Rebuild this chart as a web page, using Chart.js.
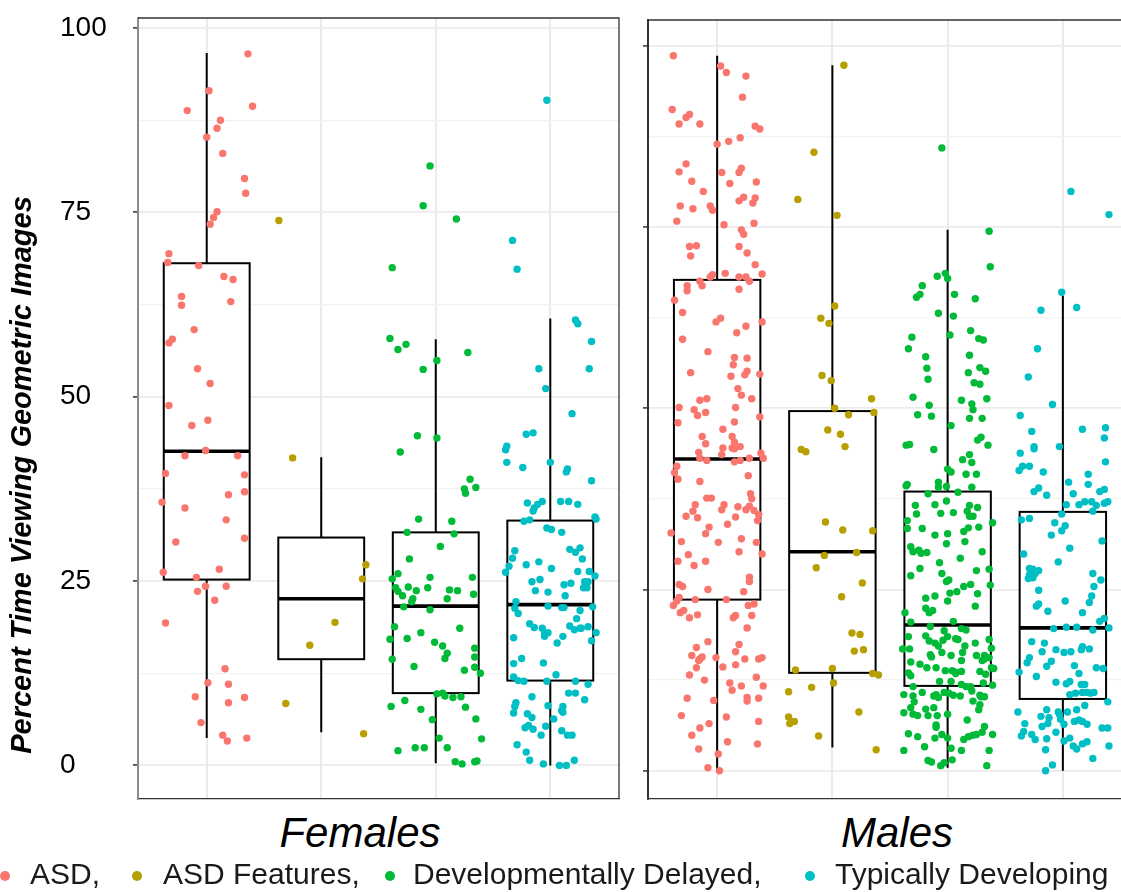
<!DOCTYPE html>
<html><head><meta charset="utf-8">
<script src="https://cdn.jsdelivr.net/npm/chart.js@4.4.1/dist/chart.umd.min.js"></script>
<style>
html,body{margin:0;padding:0;background:#fff;overflow:hidden;width:1121px;height:892px;}
#wrap{position:relative;width:1121px;height:892px;overflow:hidden;font-family:'Liberation Sans',Arial,sans-serif;background:#fff;}
canvas{position:absolute;top:0;}
#cF{left:0;}
#cM{left:620px;}
.facet{position:absolute;top:812px;font-style:italic;font-size:42px;line-height:42px;color:#000;white-space:nowrap;transform:translateX(-50%);}
#ytitle{position:absolute;left:21px;top:475px;font-weight:bold;font-style:italic;font-size:29px;line-height:29px;white-space:nowrap;transform:translate(-50%,-50%) rotate(-90deg);color:#000;}
.lg{position:absolute;top:859px;font-size:30px;line-height:30px;color:#1a1a1a;white-space:nowrap;}
.dot{position:absolute;width:10px;height:10px;border-radius:50%;top:871px;}
</style>
</head>
<body>
<div id="wrap">
<canvas id="cF" width="620" height="800"></canvas>
<canvas id="cM" width="520" height="800"></canvas>
<div id="ytitle">Percent Time Viewing Geometric Images</div>
<div class="facet" id="fF" style="left:360px">Females</div>
<div class="facet" id="fM" style="left:897px">Males</div>
<div id="legend"></div>
</div>
<script>
// ---------- categories / labels ----------
const groupNames = ['ASD', 'ASD Features', 'Developmentally Delayed', 'Typically Developing'];
const groupColors = ['#F8766D', '#B79F00', '#00BA38', '#00BFC4'];
const panelNames = ['Females', 'Males'];
const majorTicks = [0, 25, 50, 75, 100];
const minorTicks = [12.5, 37.5, 62.5, 87.5];

// ---------- box statistics ----------
const femLow  = [3.7, 4.5, 0.3, 0.0];
const femQ1   = [25.2, 14.4, 9.8, 11.5];
const femMed  = [42.6, 22.6, 21.6, 21.8];
const femQ3   = [68.1, 30.9, 31.6, 33.2];
const femHigh = [96.6, 41.8, 57.8, 60.6];

const malLow  = [0.0, 3.2, 0.4, 0.0];
const malQ1   = [23.6, 13.5, 11.7, 9.9];
const malMed  = [43.0, 30.2, 20.1, 19.7];
const malQ3   = [67.7, 49.6, 38.5, 35.7];
const malHigh = [98.6, 97.3, 74.6, 65.5];

// ---------- jittered points: [horizontal jitter, percent] ----------
const femASD = [[0.36,96.5],[0.02,91.5],[-0.17,88.8],[0.40,89.4],[0.12,87.5],[0.09,86.4],[0.00,85.2],[0.14,83.0],[0.33,79.6],[0.34,77.6],[0.09,75.1],[0.06,74.3],[0.03,73.4],[-0.33,69.4],[-0.34,68.2],[-0.07,67.8],[0.15,66.3],[0.23,65.9],[-0.22,63.6],[-0.22,62.4],[0.21,62.9],[-0.11,59.1],[-0.30,57.8],[-0.33,57.3],[-0.08,53.8],[0.03,51.8],[-0.33,48.8],[0.01,46.8],[-0.13,46.1],[-0.19,42.0],[-0.01,42.7],[0.27,42.0],[-0.36,39.6],[0.33,39.4],[-0.39,35.7],[0.19,36.7],[0.33,37.1],[-0.19,34.9],[0.17,33.3],[-0.27,30.3],[0.33,30.8],[-0.38,26.2],[0.11,26.6],[-0.09,25.5],[-0.01,24.3],[0.17,24.3],[-0.08,23.6],[0.07,22.4],[-0.36,19.3],[0.16,13.1],[0.01,11.2],[0.19,11.0],[-0.10,9.3],[0.19,8.5],[0.33,9.2],[-0.05,5.8],[0.14,4.1],[0.18,3.3],[0.35,3.7]];
const femASDF = [[-0.37,73.9],[-0.25,41.7],[0.39,27.2],[0.36,25.3],[0.12,19.4],[-0.10,16.3],[-0.31,8.4],[0.37,4.3]];
const femDD = [[-0.38,67.5],[-0.05,81.3],[-0.11,75.9],[0.18,74.1],[-0.40,57.9],[-0.33,56.4],[-0.26,57.1],[0.01,54.9],[0.28,56.0],[-0.11,53.7],[-0.16,44.7],[0.01,44.4],[-0.31,42.5],[0.30,38.8],[0.25,37.5],[0.26,36.9],[0.35,37.7],[-0.15,33.4],[0.14,33.1],[-0.25,31.6],[0.16,31.4],[0.04,29.7],[-0.23,28.0],[-0.33,26.0],[-0.38,25.3],[-0.05,25.5],[0.32,25.5],[-0.35,24.1],[-0.24,24.2],[-0.33,23.6],[-0.29,23.0],[-0.17,23.7],[-0.07,24.1],[0.12,23.8],[0.19,23.7],[0.33,23.2],[-0.20,22.6],[-0.21,22.2],[0.10,22.6],[-0.28,21.5],[-0.05,21.1],[-0.36,18.8],[0.21,18.6],[-0.13,18.0],[-0.40,17.1],[-0.25,17.2],[-0.01,16.7],[0.06,16.2],[0.10,15.2],[0.08,14.5],[0.34,15.9],[0.34,14.7],[-0.38,14.4],[-0.19,13.4],[0.25,12.9],[0.34,13.3],[0.39,12.5],[0.01,9.7],[0.06,9.8],[0.08,9.4],[0.15,9.2],[0.22,9.3],[-0.27,8.8],[-0.39,8.0],[-0.13,7.6],[0.26,7.9],[-0.03,6.2],[0.35,6.3],[0.03,3.7],[0.40,3.6],[-0.33,2.0],[-0.18,2.4],[-0.10,2.4],[0.10,2.4],[0.17,0.5],[0.23,0.2],[0.34,0.5],[0.36,0.6]];
const femTD = [[-0.03,90.2],[-0.33,71.2],[-0.29,67.3],[0.22,60.4],[0.24,59.9],[0.36,57.5],[0.34,53.8],[-0.10,53.8],[-0.04,51.1],[0.19,47.7],[-0.21,44.9],[-0.15,45.1],[-0.38,43.3],[-0.39,42.8],[-0.38,41.1],[0.00,41.1],[-0.24,40.4],[0.15,40.2],[0.14,39.8],[0.36,38.6],[-0.20,35.6],[-0.14,34.9],[-0.15,34.5],[-0.11,35.4],[-0.07,35.8],[0.09,35.8],[0.16,35.8],[0.24,35.4],[0.39,33.7],[0.40,33.4],[-0.23,33.1],[-0.18,33.3],[-0.03,32.2],[0.01,32.0],[0.10,31.6],[-0.31,29.1],[-0.33,28.1],[0.17,29.3],[0.26,29.5],[0.22,28.9],[0.28,28.0],[-0.36,27.0],[-0.39,26.2],[-0.21,27.2],[-0.10,27.6],[0.01,26.7],[0.24,26.3],[0.34,26.3],[0.39,25.7],[-0.16,24.9],[-0.09,25.2],[0.12,24.5],[0.18,24.7],[0.30,24.9],[0.33,24.9],[0.29,24.1],[0.32,24.1],[-0.13,23.7],[-0.02,23.5],[0.13,23.0],[-0.30,22.2],[-0.31,21.3],[-0.28,20.6],[-0.02,21.6],[0.10,21.4],[0.12,21.4],[0.37,21.5],[0.26,21.0],[0.23,19.9],[-0.18,19.2],[-0.14,18.7],[-0.07,18.6],[-0.05,17.9],[-0.05,17.5],[-0.02,18.0],[0.06,16.6],[0.11,17.5],[0.17,18.9],[0.21,18.4],[0.26,18.6],[0.27,18.6],[0.33,18.8],[0.36,16.9],[0.40,18.0],[-0.32,17.3],[-0.25,14.5],[-0.32,13.8],[-0.06,13.9],[-0.32,12.0],[-0.28,11.5],[-0.23,11.4],[-0.03,11.4],[0.05,12.3],[0.22,11.4],[0.33,11.0],[0.16,9.8],[0.22,9.8],[0.30,8.9],[-0.16,9.3],[-0.30,8.5],[-0.31,8.0],[-0.32,7.1],[-0.20,7.0],[-0.16,6.5],[-0.02,8.1],[0.11,8.0],[0.10,7.4],[0.11,7.2],[0.03,6.3],[-0.22,5.1],[-0.19,5.4],[-0.15,4.9],[-0.04,5.3],[0.10,4.7],[0.15,4.1],[0.19,4.1],[-0.08,4.1],[-0.29,2.8],[-0.21,1.8],[-0.18,0.7],[-0.06,0.2],[0.08,0.0],[0.14,0.0],[0.21,0.7]];

const malASD = [[-0.38,98.6],[0.03,97.2],[0.08,96.3],[0.25,95.8],[0.22,92.9],[-0.39,91.2],[-0.33,89.2],[-0.27,90.1],[-0.24,90.5],[-0.15,89.2],[0.33,88.9],[0.37,88.5],[0.00,86.4],[0.10,86.8],[0.20,87.3],[-0.27,83.7],[-0.33,82.6],[0.04,82.5],[0.21,83.1],[0.19,82.5],[-0.22,81.3],[0.11,81.0],[0.34,81.2],[-0.12,79.9],[-0.32,77.9],[-0.21,77.5],[-0.06,77.9],[-0.04,77.3],[0.19,78.6],[0.23,79.1],[0.31,78.3],[0.33,79.0],[-0.35,75.8],[0.06,75.3],[0.32,75.5],[0.21,74.6],[0.23,74.0],[-0.24,72.3],[-0.18,72.4],[-0.23,71.0],[0.19,72.3],[0.26,71.4],[0.33,69.8],[0.39,68.5],[0.07,68.6],[-0.04,68.4],[-0.06,68.1],[0.19,68.1],[0.25,68.1],[0.28,67.5],[-0.15,67.5],[-0.13,66.9],[-0.26,66.9],[-0.26,66.2],[0.19,66.4],[-0.37,64.9],[-0.30,63.2],[0.03,62.4],[-0.01,61.9],[0.39,61.9],[0.25,61.3],[0.17,60.4],[-0.30,59.5],[-0.08,57.8],[0.15,57.0],[0.26,56.9],[0.14,56.0],[-0.23,54.9],[0.26,55.1],[0.24,54.6],[0.12,54.4],[0.37,54.7],[0.18,52.7],[0.21,51.8],[0.30,51.3],[-0.15,51.1],[-0.09,51.3],[0.16,50.1],[-0.33,50.1],[-0.20,49.8],[-0.17,49.0],[-0.10,49.4],[0.37,48.8],[-0.34,48.0],[0.15,48.1],[0.05,47.1],[0.13,46.1],[-0.13,46.1],[0.15,45.3],[-0.10,45.1],[0.05,44.5],[0.13,44.5],[0.20,44.7],[-0.16,43.9],[0.04,43.6],[0.15,44.4],[0.38,43.8],[0.40,43.1],[0.28,43.1],[0.20,42.8],[-0.15,43.1],[-0.09,42.8],[0.15,42.6],[-0.35,42.0],[-0.37,41.1],[-0.34,40.2],[0.27,40.7],[-0.15,39.9],[-0.09,37.6],[-0.05,37.6],[0.29,38.2],[0.30,37.5],[-0.19,36.7],[0.06,36.7],[0.18,36.4],[0.25,36.0],[0.28,36.5],[-0.21,35.8],[0.04,36.0],[0.32,35.9],[-0.27,35.1],[-0.17,34.9],[0.16,35.0],[0.36,35.3],[0.35,34.5],[0.09,34.0],[-0.07,33.6],[-0.10,32.7],[-0.40,32.8],[0.21,32.0],[-0.31,31.6],[0.01,31.5],[0.34,31.5],[-0.25,29.8],[0.19,30.2],[0.39,29.9],[-0.20,28.3],[-0.34,28.9],[-0.10,28.9],[0.28,26.7],[0.28,26.1],[-0.33,25.7],[-0.30,25.4],[-0.08,25.0],[0.23,24.7],[-0.33,23.9],[-0.35,23.4],[-0.38,22.8],[-0.19,23.6],[0.08,23.6],[0.27,22.8],[0.32,23.0],[-0.32,21.8],[-0.29,22.1],[-0.24,21.1],[-0.17,21.5],[0.14,21.1],[0.16,21.4],[0.30,21.4],[0.26,19.7],[-0.18,17.0],[-0.08,17.8],[0.19,17.4],[-0.22,15.9],[-0.15,15.4],[-0.13,15.7],[-0.16,15.2],[-0.01,15.6],[0.16,16.4],[0.24,15.4],[0.36,15.4],[0.39,15.6],[-0.18,14.2],[0.05,14.3],[0.16,14.6],[-0.24,13.2],[-0.11,12.5],[0.34,12.9],[0.11,12.1],[0.21,11.7],[0.13,11.1],[0.40,11.7],[-0.26,10.0],[-0.03,9.7],[0.26,10.1],[0.26,9.6],[0.36,10.0],[-0.31,7.6],[0.08,7.4],[-0.07,6.5],[0.36,6.8],[-0.15,5.9],[-0.22,4.9],[0.09,4.0],[0.35,3.7],[-0.16,3.0],[0.01,2.3],[-0.08,0.4],[0.02,0.0]];
const malASDF = [[0.10,97.3],[-0.16,85.3],[-0.30,78.8],[0.04,76.6],[0.02,64.1],[-0.10,62.4],[-0.03,61.7],[-0.09,54.5],[-0.01,53.8],[0.02,50.0],[0.34,51.3],[0.36,49.4],[0.14,49.1],[-0.04,47.0],[0.07,46.4],[0.11,44.7],[-0.27,44.3],[-0.23,44.0],[-0.06,34.3],[0.09,33.2],[0.35,33.1],[0.21,30.1],[-0.07,29.7],[-0.14,28.0],[0.26,25.9],[0.08,24.0],[0.17,19.0],[0.24,18.8],[0.19,16.5],[0.27,16.7],[-0.32,13.9],[0.00,14.1],[0.35,13.4],[0.40,13.2],[0.01,12.1],[-0.18,11.5],[-0.38,10.9],[0.23,8.1],[-0.38,7.4],[-0.37,6.5],[-0.33,6.8],[-0.12,4.8],[0.38,2.9]];
const malDD = [[-0.05,85.9],[0.36,74.4],[0.37,69.5],[-0.09,68.2],[-0.02,68.6],[0.00,67.9],[-0.22,66.9],[-0.27,65.3],[-0.24,65.7],[0.06,65.7],[0.24,65.1],[-0.08,63.1],[0.05,62.7],[-0.31,59.8],[0.02,60.1],[0.20,60.7],[0.27,59.6],[0.31,59.4],[-0.34,58.2],[-0.19,57.1],[0.19,57.3],[-0.18,55.5],[0.28,55.6],[0.18,54.9],[0.33,55.1],[-0.17,54.0],[0.23,53.5],[0.28,53.3],[-0.30,51.5],[0.12,51.1],[0.34,51.3],[-0.16,50.4],[0.21,50.6],[0.22,49.8],[-0.26,49.1],[-0.14,48.9],[0.19,48.6],[0.30,48.6],[0.03,47.6],[0.29,46.0],[0.26,45.6],[-0.36,44.9],[-0.33,45.0],[0.35,44.9],[-0.12,44.3],[0.19,43.6],[0.21,42.5],[0.13,42.9],[0.00,41.6],[0.03,41.2],[0.16,40.9],[0.25,40.9],[-0.36,39.3],[-0.35,39.5],[-0.08,39.8],[-0.08,39.1],[-0.01,39.2],[0.21,39.1],[-0.17,38.2],[0.09,38.4],[-0.01,37.2],[-0.11,36.7],[-0.28,36.6],[0.19,36.6],[0.26,36.3],[0.17,35.8],[0.19,35.1],[0.22,35.1],[-0.27,35.4],[-0.06,35.5],[0.05,35.6],[-0.35,34.5],[0.39,34.2],[-0.35,33.4],[-0.22,33.4],[0.18,33.5],[0.27,33.6],[0.14,33.0],[0.00,32.7],[-0.11,32.5],[0.15,31.6],[-0.01,31.3],[-0.32,30.9],[-0.30,30.2],[-0.25,30.4],[-0.23,30.0],[-0.18,30.1],[0.30,30.2],[-0.24,27.9],[0.11,29.3],[-0.07,28.7],[0.36,27.8],[0.25,27.6],[-0.32,26.9],[-0.05,27.2],[-0.01,26.1],[0.01,26.3],[0.14,25.4],[0.20,25.7],[0.37,25.6],[0.02,24.5],[0.08,24.7],[0.26,24.4],[-0.19,23.8],[-0.11,24.1],[0.00,23.4],[0.24,22.7],[-0.19,22.4],[-0.16,21.8],[-0.13,22.1],[-0.37,21.8],[-0.32,20.5],[0.05,20.6],[0.12,19.6],[0.16,19.4],[-0.15,19.9],[-0.03,19.3],[-0.34,18.5],[-0.19,18.6],[-0.16,17.9],[-0.11,17.6],[-0.08,17.2],[-0.04,18.0],[0.00,18.5],[0.07,18.2],[0.09,18.1],[0.15,17.2],[0.24,17.6],[0.36,18.1],[-0.39,16.8],[-0.33,16.8],[0.38,16.9],[-0.15,16.0],[-0.14,15.7],[-0.05,16.3],[0.03,15.9],[0.13,16.3],[0.25,15.9],[0.32,15.9],[0.36,15.6],[-0.32,15.0],[0.12,15.2],[0.30,15.2],[0.32,15.4],[-0.24,14.7],[-0.18,14.2],[-0.10,14.2],[-0.02,13.8],[0.04,13.8],[0.07,13.6],[0.12,13.7],[0.28,13.7],[0.38,14.2],[0.40,14.1],[-0.34,13.5],[-0.32,13.1],[-0.07,12.3],[0.03,12.3],[0.07,13.4],[0.12,11.9],[0.16,11.6],[0.20,11.6],[0.31,12.1],[0.33,13.3],[-0.30,11.6],[0.39,11.8],[-0.38,10.5],[-0.30,10.3],[-0.22,10.8],[-0.12,10.3],[-0.10,10.5],[-0.08,10.1],[-0.03,10.8],[0.01,10.7],[0.05,10.4],[0.11,10.3],[0.21,11.0],[0.28,10.4],[0.29,10.2],[0.32,10.2],[0.22,9.6],[-0.29,9.5],[0.28,9.1],[-0.32,8.7],[-0.12,8.7],[-0.19,8.5],[0.27,8.4],[-0.38,8.0],[-0.30,7.8],[-0.26,7.6],[-0.17,7.6],[-0.09,7.6],[0.00,7.8],[0.17,7.0],[-0.10,6.3],[-0.10,6.0],[0.32,6.1],[-0.34,5.1],[-0.26,4.7],[-0.11,4.5],[-0.05,5.0],[0.00,4.5],[0.14,4.3],[0.18,4.7],[0.22,4.9],[0.25,5.0],[0.30,5.3],[0.39,5.0],[-0.38,2.8],[-0.20,3.3],[0.03,3.1],[0.12,2.8],[0.36,2.8],[-0.17,1.4],[-0.14,1.2],[-0.06,0.7],[-0.03,1.1],[0.04,1.5],[0.34,0.7]];
const malTD = [[0.07,79.9],[0.40,76.7],[-0.01,66.0],[-0.19,63.5],[0.12,63.9],[-0.22,58.2],[-0.30,54.3],[-0.09,50.5],[-0.37,49.0],[-0.27,46.8],[0.17,47.1],[0.37,47.3],[0.36,45.9],[-0.25,44.7],[-0.25,44.4],[-0.03,44.7],[-0.37,43.8],[0.37,42.6],[-0.38,41.4],[-0.35,42.0],[-0.29,42.0],[-0.17,41.2],[0.22,40.9],[0.05,39.8],[0.22,39.5],[-0.21,39.0],[-0.25,38.5],[-0.14,38.0],[0.09,38.2],[0.36,38.8],[0.32,38.5],[0.19,37.1],[0.14,36.7],[0.03,36.7],[0.25,37.1],[0.29,36.6],[0.39,37.1],[0.36,36.9],[0.26,35.8],[-0.01,35.4],[-0.36,34.6],[-0.29,34.8],[-0.07,34.2],[0.02,33.8],[-0.01,33.1],[-0.10,32.5],[0.34,31.7],[0.06,30.7],[-0.34,29.9],[-0.04,28.8],[-0.29,27.9],[-0.26,27.8],[-0.21,27.6],[-0.29,27.0],[-0.24,27.2],[-0.30,26.5],[-0.26,26.6],[0.26,27.2],[0.33,26.3],[0.27,25.4],[-0.21,24.9],[0.02,23.4],[0.25,24.1],[0.23,23.2],[-0.23,22.7],[-0.21,23.0],[-0.13,22.0],[0.17,21.8],[0.36,21.0],[0.32,20.6],[0.40,19.7],[0.12,19.8],[0.26,19.4],[-0.08,19.6],[0.03,19.8],[-0.27,17.8],[-0.16,17.6],[-0.06,16.7],[0.01,16.3],[0.07,16.4],[0.16,16.7],[0.17,17.1],[0.23,16.8],[-0.18,16.4],[-0.29,15.6],[-0.31,14.9],[-0.10,15.1],[-0.14,14.4],[0.10,14.5],[0.29,14.2],[0.35,14.1],[-0.38,13.6],[-0.23,13.0],[0.14,13.4],[-0.06,12.2],[0.03,12.0],[0.06,12.3],[0.16,11.9],[0.19,11.9],[0.06,10.5],[0.11,10.7],[0.17,10.8],[0.21,10.8],[0.24,10.7],[0.27,10.8],[0.39,9.5],[0.19,9.0],[-0.39,8.1],[-0.14,8.4],[-0.04,8.1],[-0.03,7.8],[0.04,8.1],[0.12,8.4],[-0.19,7.5],[-0.12,7.3],[-0.02,7.1],[0.10,6.8],[0.14,7.0],[0.17,6.8],[0.21,6.4],[-0.33,6.5],[-0.18,6.1],[-0.13,6.5],[0.01,6.4],[0.34,5.9],[0.39,5.9],[-0.34,5.4],[-0.36,4.8],[-0.27,5.0],[-0.24,4.3],[-0.14,4.4],[-0.06,5.3],[0.06,4.5],[0.01,4.1],[0.09,3.4],[0.12,3.0],[0.17,3.7],[0.21,4.0],[0.40,3.4],[-0.15,2.9],[0.26,1.7],[-0.09,0.8],[-0.15,0.0]];

// ---------- panel / style settings ----------
const BOX_WIDTH = 0.75;
const FONT = "'Liberation Sans', Arial, sans-serif";

const panels = [
  { canvas: 'cF', points: [femASD, femASDF, femDD, femTD],
    low: femLow, q1: femQ1, med: femMed, q3: femQ3, high: femHigh,
    yMin: -4.56, yMax: 101.36, showLabels: true, axisWidth: 78, borderColor: '#8c8c8c',
    padding: { left: 60, top: 18, right: 1, bottom: 1 } },
  { canvas: 'cM', points: [malASD, malASDF, malDD, malTD],
    low: malLow, q1: malQ1, med: malMed, q3: malQ3, high: malHigh,
    yMin: -3.90, yMax: 103.54, showLabels: false, axisWidth: 5, borderColor: '#333333',
    padding: { left: 23, top: 20, right: 8, bottom: 1 } }
];

function buildPanel(p) {
  const boxPlugin = {
    id: 'box_' + p.canvas,
    beforeDatasetsDraw(chart) {
      const ctx = chart.ctx, xs = chart.scales.x, ys = chart.scales.y;
      ctx.save();
      ctx.strokeStyle = '#000';
      for (let i = 0; i < groupNames.length; i++) {
        const pos = i + 1;
        const cx = xs.getPixelForValue(pos);
        const xl = xs.getPixelForValue(pos - BOX_WIDTH / 2);
        const xr = xs.getPixelForValue(pos + BOX_WIDTH / 2);
        const yLo = ys.getPixelForValue(p.low[i]);
        const yQ1 = ys.getPixelForValue(p.q1[i]);
        const yMd = ys.getPixelForValue(p.med[i]);
        const yQ3 = ys.getPixelForValue(p.q3[i]);
        const yHi = ys.getPixelForValue(p.high[i]);
        ctx.lineWidth = 2;
        ctx.beginPath();
        ctx.moveTo(cx, yHi); ctx.lineTo(cx, yQ3);
        ctx.moveTo(cx, yQ1); ctx.lineTo(cx, yLo);
        ctx.stroke();
        ctx.fillStyle = '#fff';
        ctx.fillRect(xl, yQ3, xr - xl, yQ1 - yQ3);
        ctx.strokeRect(xl, yQ3, xr - xl, yQ1 - yQ3);
        ctx.lineWidth = 3.6;
        ctx.beginPath();
        ctx.moveTo(xl, yMd); ctx.lineTo(xr, yMd);
        ctx.stroke();
      }
      ctx.restore();
    },
    afterDatasetsDraw(chart) {
      const ctx = chart.ctx, a = chart.chartArea;
      ctx.save();
      ctx.strokeStyle = '#333';
      ctx.lineWidth = 1.3;
      ctx.beginPath();
      ctx.moveTo(a.left, a.top); ctx.lineTo(a.right, a.top); ctx.lineTo(a.right, a.bottom);
      ctx.stroke();
      ctx.restore();
    }
  };

  const isMajor = v => majorTicks.includes(v);
  const allY = majorTicks.concat(minorTicks).sort((a, b) => a - b);

  return new Chart(document.getElementById(p.canvas), {
    type: 'scatter',
    data: {
      datasets: p.points.map((pts, i) => ({
        label: groupNames[i],
        data: pts.map(d => ({ x: i + 1 + d[0], y: d[1] })),
        backgroundColor: groupColors[i],
        borderWidth: 0,
        pointRadius: 3.7,
        pointHoverRadius: 3.7
      }))
    },
    options: {
      responsive: false, animation: false, devicePixelRatio: 1, events: [],
      layout: { autoPadding: false, padding: p.padding },
      plugins: { legend: { display: false }, tooltip: { enabled: false } },
      scales: {
        x: {
          type: 'linear', min: 0.4, max: 4.6, bounds: 'data',
          afterBuildTicks: s => { s.ticks = groupNames.map((g, i) => ({ value: i + 1 })); },
          ticks: { display: false },
          grid: { color: '#ebebeb', lineWidth: 2, drawTicks: false },
          border: { display: true, color: '#333', width: 1.3 },
          afterFit: s => { s.height = 0; s.paddingLeft = 0; s.paddingRight = 0; }
        },
        y: {
          type: 'linear', min: p.yMin, max: p.yMax, bounds: 'data',
          afterBuildTicks: s => { s.ticks = allY.map(v => ({ value: v })); },
          ticks: {
            display: p.showLabels, autoSkip: false, crossAlign: 'far', padding: 0,
            color: '#000', font: { family: FONT, size: 28 },
            callback: v => isMajor(v) ? String(v) : ''
          },
          grid: {
            color: c => isMajor(c.tick.value) ? '#ebebeb' : '#f2f2f2',
            lineWidth: c => isMajor(c.tick.value) ? 1.8 : 1.3,
            tickLength: 5,
            tickColor: c => isMajor(c.tick.value) ? '#333' : 'rgba(0,0,0,0)',
            tickWidth: 1.5
          },
          border: { display: true, color: p.borderColor, width: 2 },
          afterFit: s => { s.width = p.axisWidth; s.paddingTop = 0; s.paddingBottom = 0; }
        }
      }
    },
    plugins: [boxPlugin]
  });
}

panels.forEach(buildPanel);

// ---------- legend (HTML text) ----------
const legendTextLeft = [30, 163, 413, 835];
const legendDotCenter = [5, 137, 390, 810];
const legendEl = document.getElementById('legend');
groupNames.forEach((g, i) => {
  const dot = document.createElement('div');
  dot.className = 'dot';
  dot.style.left = (legendDotCenter[i] - 5) + 'px';
  dot.style.background = groupColors[i];
  legendEl.appendChild(dot);
  const t = document.createElement('div');
  t.className = 'lg';
  t.style.left = legendTextLeft[i] + 'px';
  t.textContent = g + (i < groupNames.length - 1 ? ',' : '');
  legendEl.appendChild(t);
});
</script>
</body></html>
